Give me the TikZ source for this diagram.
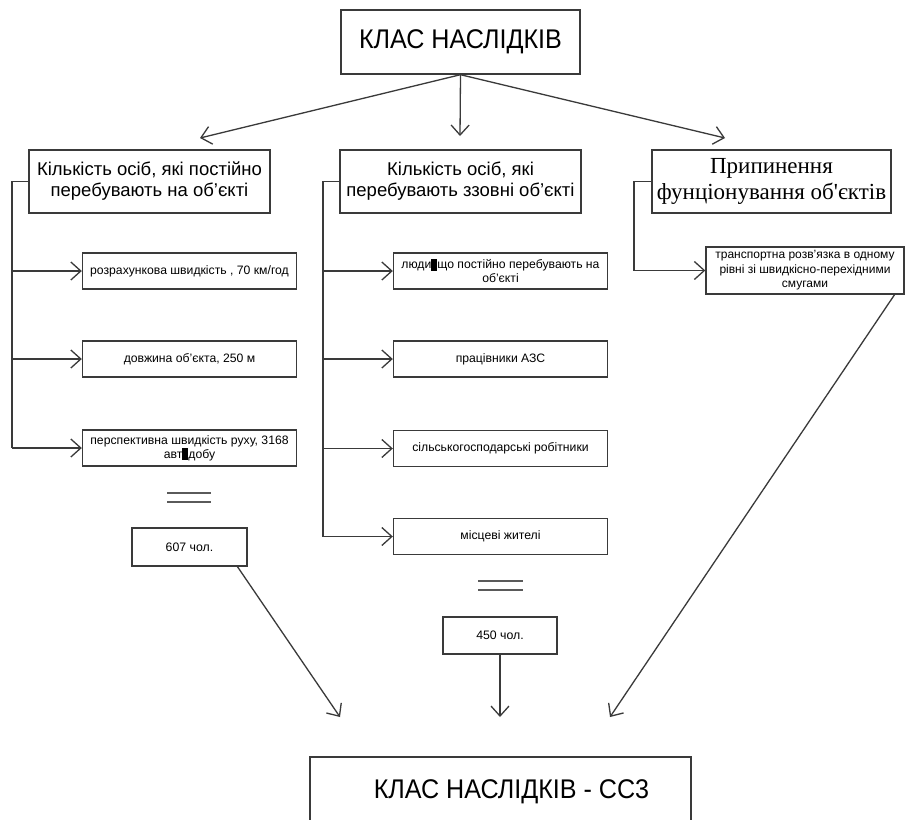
\documentclass[tikz,border=0pt]{standalone}
\usepackage{graphicx}
\usepackage{fontspec}
\setmainfont{Liberation Sans}
\newfontfamily\serifcyr{Liberation Serif}
\usetikzlibrary{arrows.meta}
\definecolor{linec}{HTML}{3A3A3A}
\definecolor{eqc}{HTML}{5A5A5A}
\newcommand{\blk}{\rule[-2pt]{6pt}{12pt}}
\newcommand{\hsq}[1]{\scalebox{0.93}[1]{#1}}
\begin{document}
\begin{tikzpicture}[x=1pt,y=-1pt,
  box/.style={draw=linec, line width=1.4pt, inner sep=0pt, align=center, text=black},
  bigbox/.style={box, minimum width=239pt, minimum height=64pt, font=\fontsize{27}{30}\selectfont},
  midbox/.style={box, minimum width=241pt, minimum height=63pt, font=\fontsize{18.5}{21}\selectfont},
  smallbox/.style={box, minimum width=214pt, minimum height=36pt, font=\fontsize{12.2}{14}\selectfont},
  sumbox/.style={box, minimum width=115pt, minimum height=38pt, font=\fontsize{12.3}{14}\selectfont},
  arr/.style={draw=linec, line width=1.3pt, -{Straight Barb[length=10pt,width=18pt,line width=1.3pt]}},
  ln/.style={draw=linec, line width=1.3pt},
  eq/.style={draw=eqc, line width=2pt}]
\clip (0,0) rectangle (907,819);
\fill[white] (0,0) rectangle (907,819);

% top
\node[bigbox] (T) at (460.5,42) {\hsq{КЛАС НАСЛІДКІВ}};

% level 1
\node[midbox] (L) at (149.5,181.5) {Кількість осіб, які постійно\\перебувають на об'єкті};
\node[midbox] (M) at (460.5,181.5) {Кількість осіб, які\\перебувають ззовні об'єкті};
\node[box, minimum width=239pt, minimum height=63pt, font=\serifcyr\fontsize{23}{26}\selectfont] (R) at (771.5,181.5) {Припинення\\фунціонування об'єктів};

\coordinate (aL) at (200,138);
\coordinate (aM) at (460,136);
\coordinate (aR) at (725,138);
\draw[arr] (T.south) -- (aL);
\draw[arr] (T.south) -- (aM);
\draw[arr] (T.south) -- (aR);

% left branch
\node[smallbox] (l1) at (189.5,271) {розрахункова швидкість , 70 км/год};
\node[smallbox] (l2) at (189.5,359) {довжина об'єкта, 250 м};
\node[smallbox] (l3) at (189.5,448) {перспективна швидкість руху, 3168\\авт\blk добу};
\coordinate (bl) at (12,0);
\draw[ln] (L.west) -- (L.west -| bl) -- (l3.west -| bl);
\draw[arr] (l1.west -| bl) -- (l1.west);
\draw[arr] (l2.west -| bl) -- (l2.west);
\draw[arr] (l3.west -| bl) -- (l3.west);

% middle branch
\node[smallbox] (m1) at (500.5,271) {люди\blk що постійно перебувають на\\об'єкті};
\node[smallbox] (m2) at (500.5,359) {працівники АЗС};
\node[smallbox] (m3) at (500.5,448.5) {сільськогосподарські робітники};
\node[smallbox] (m4) at (500.5,536.5) {місцеві жителі};
\coordinate (bm) at (323,0);
\draw[ln] (M.west) -- (M.west -| bm) -- (m4.west -| bm);
\draw[arr] (m1.west -| bm) -- (m1.west);
\draw[arr] (m2.west -| bm) -- (m2.west);
\draw[arr] (m3.west -| bm) -- (m3.west);
\draw[arr] (m4.west -| bm) -- (m4.west);

% right branch
\node[box, minimum width=198pt, minimum height=47pt, font=\fontsize{12}{14.5}\selectfont] (t1) at (805,270.5) {транспортна розв'язка в одному\\рівні зі швидкісно-перехідними\\смугами};
\coordinate (br) at (634,0);
\draw[arr] (R.west) -- (R.west -| br) |- (t1.west);

% equals signs
\draw[eq] (167,493) -- (211,493);
\draw[eq] (167,502) -- (211,502);
\draw[eq] (478,581) -- (523,581);
\draw[eq] (478,590) -- (523,590);

% sums
\node[sumbox] (s1) at (189.5,547) {607 чол.};
\node[sumbox, minimum width=114pt, minimum height=37pt] (s2) at (500,635.5) {450 чол.};

% bottom
\node[box, minimum width=381pt, minimum height=70pt, font=\fontsize{27}{30}\selectfont] (B) at (500.5,792) {\hspace*{22pt}\hsq{КЛАС НАСЛІДКІВ - СС3}};

\coordinate (s1o) at (237,566);
\coordinate (t1o) at (895,294);
\coordinate (bL) at (340,717);
\coordinate (bM) at (500,717);
\coordinate (bR) at (610,717);
\draw[arr] (s1o) -- (bL);
\draw[arr] (s2.south) -- (bM);
\draw[arr] (t1o) -- (bR);
\end{tikzpicture}
\end{document}
